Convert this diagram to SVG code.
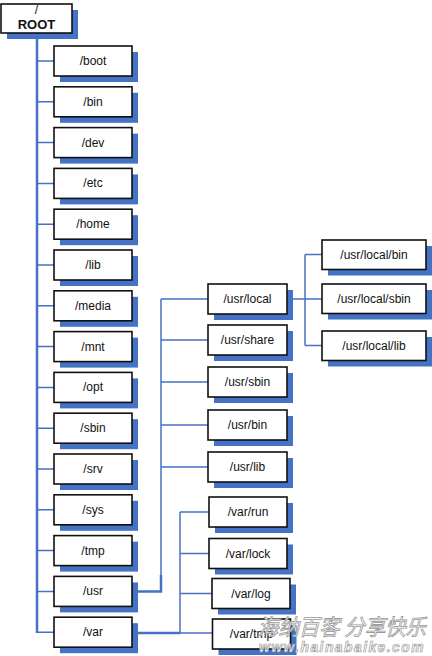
<svg xmlns="http://www.w3.org/2000/svg" width="432" height="656" viewBox="0 0 432 656">
<style>
.sh{fill:#4472C4}
.bx{fill:#fff;stroke:#111;stroke-width:1.6}
.t{font-family:"Liberation Sans",Arial,sans-serif;font-size:12px;fill:#111;text-anchor:middle}
.c{fill:none;stroke:#4472C4;stroke-width:1.5}
.ct{fill:none;stroke:#4472C4;stroke-width:2.5}
.wm{font-family:"Noto Sans CJK SC",sans-serif;font-size:22px;fill:#fff;stroke:#999;stroke-width:0.8;font-style:italic}
.wm2{font-family:"Liberation Sans",sans-serif;font-size:14px;font-weight:bold;font-style:italic;fill:#fff;stroke:#999;stroke-width:0.7;letter-spacing:1.5px}
</style>
<rect width="432" height="656" fill="#fff"/>
<g id="connectors">
<path class="ct" d="M37 33V633"/>
<path class="c" d="M37 61H54M37 101.8H54M37 142.6H54M37 183.4H54M37 224.2H54M37 265H54M37 305.8H54M37 346.6H54M37 387.4H54M37 428.2H54M37 469H54M37 509.8H54M37 550.6H54M37 591.4H54M37 632.2H54"/>
<path class="c" d="M161 299V591.4M161 299H208M161 340H208M161 382H208M161 425H208M161 467H208"/>
<path class="ct" d="M132 591.4H161V575"/>
<path class="c" d="M287 299H305M305 254.5V345.5M305 254.5H322M305 299H322M305 345.5H322"/>
<path class="ct" d="M132 633H180"/>
<path class="c" d="M180 512V633M180 512H209M180 553.5H209M180 593.5H212M180 633H212.5"/>
</g>
<g id="root"><rect class="sh" x="7" y="10" width="71" height="29"/><rect class="bx" x="1" y="4" width="71" height="29"/><text class="t" x="36.5" y="14">/</text><text class="t" x="36.5" y="29" style="font-weight:bold;font-size:13px">ROOT</text></g>
<g id="boot"><rect class="sh" x="60" y="52" width="78" height="30"/><rect class="bx" x="54" y="46" width="78" height="30"/><text class="t" x="93" y="65">/boot</text></g>
<g id="bin"><rect class="sh" x="60" y="92.8" width="78" height="30"/><rect class="bx" x="54" y="86.8" width="78" height="30"/><text class="t" x="93" y="105.8">/bin</text></g>
<g id="dev"><rect class="sh" x="60" y="133.6" width="78" height="30"/><rect class="bx" x="54" y="127.6" width="78" height="30"/><text class="t" x="93" y="146.6">/dev</text></g>
<g id="etc"><rect class="sh" x="60" y="174.4" width="78" height="30"/><rect class="bx" x="54" y="168.4" width="78" height="30"/><text class="t" x="93" y="187.4">/etc</text></g>
<g id="home"><rect class="sh" x="60" y="215.2" width="78" height="30"/><rect class="bx" x="54" y="209.2" width="78" height="30"/><text class="t" x="93" y="228.2">/home</text></g>
<g id="lib"><rect class="sh" x="60" y="256" width="78" height="30"/><rect class="bx" x="54" y="250" width="78" height="30"/><text class="t" x="93" y="269">/lib</text></g>
<g id="media"><rect class="sh" x="60" y="296.8" width="78" height="30"/><rect class="bx" x="54" y="290.8" width="78" height="30"/><text class="t" x="93" y="309.8">/media</text></g>
<g id="mnt"><rect class="sh" x="60" y="337.6" width="78" height="30"/><rect class="bx" x="54" y="331.6" width="78" height="30"/><text class="t" x="93" y="350.6">/mnt</text></g>
<g id="opt"><rect class="sh" x="60" y="378.4" width="78" height="30"/><rect class="bx" x="54" y="372.4" width="78" height="30"/><text class="t" x="93" y="391.4">/opt</text></g>
<g id="sbin"><rect class="sh" x="60" y="419.2" width="78" height="30"/><rect class="bx" x="54" y="413.2" width="78" height="30"/><text class="t" x="93" y="432.2">/sbin</text></g>
<g id="srv"><rect class="sh" x="60" y="460" width="78" height="30"/><rect class="bx" x="54" y="454" width="78" height="30"/><text class="t" x="93" y="473">/srv</text></g>
<g id="sys"><rect class="sh" x="60" y="500.8" width="78" height="30"/><rect class="bx" x="54" y="494.8" width="78" height="30"/><text class="t" x="93" y="513.8">/sys</text></g>
<g id="tmp"><rect class="sh" x="60" y="541.6" width="78" height="30"/><rect class="bx" x="54" y="535.6" width="78" height="30"/><text class="t" x="93" y="554.6">/tmp</text></g>
<g id="usr"><rect class="sh" x="60" y="582.4" width="78" height="30"/><rect class="bx" x="54" y="576.4" width="78" height="30"/><text class="t" x="93" y="595.4">/usr</text></g>
<g id="var"><rect class="sh" x="60" y="623.2" width="78" height="30"/><rect class="bx" x="54" y="617.2" width="78" height="30"/><text class="t" x="93" y="636.2">/var</text></g>
<g id="usr-local"><rect class="sh" x="214" y="290" width="79" height="30"/><rect class="bx" x="208" y="284" width="79" height="30"/><text class="t" x="247.5" y="303">/usr/local</text></g>
<g id="usr-share"><rect class="sh" x="214" y="331" width="79" height="30"/><rect class="bx" x="208" y="325" width="79" height="30"/><text class="t" x="247.5" y="344">/usr/share</text></g>
<g id="usr-sbin"><rect class="sh" x="214" y="373" width="79" height="30"/><rect class="bx" x="208" y="367" width="79" height="30"/><text class="t" x="247.5" y="386">/usr/sbin</text></g>
<g id="usr-bin"><rect class="sh" x="214" y="416" width="79" height="30"/><rect class="bx" x="208" y="410" width="79" height="30"/><text class="t" x="247.5" y="429">/usr/bin</text></g>
<g id="usr-lib"><rect class="sh" x="214" y="458" width="79" height="30"/><rect class="bx" x="208" y="452" width="79" height="30"/><text class="t" x="247.5" y="471">/usr/lib</text></g>
<g id="usr-local-bin"><rect class="sh" x="328" y="246" width="104" height="29.5"/><rect class="bx" x="322" y="240" width="104" height="29.5"/><text class="t" x="374" y="258.5">/usr/local/bin</text></g>
<g id="usr-local-sbin"><rect class="sh" x="328" y="290" width="104" height="29.5"/><rect class="bx" x="322" y="284" width="104" height="29.5"/><text class="t" x="374" y="302.5">/usr/local/sbin</text></g>
<g id="usr-local-lib"><rect class="sh" x="328" y="337" width="104" height="29.5"/><rect class="bx" x="322" y="331" width="104" height="29.5"/><text class="t" x="374" y="349.5">/usr/local/lib</text></g>
<g id="var-run"><rect class="sh" x="215" y="503" width="78" height="30"/><rect class="bx" x="209" y="497" width="78" height="30"/><text class="t" x="248" y="516">/var/run</text></g>
<g id="var-lock"><rect class="sh" x="215" y="544.5" width="78" height="30"/><rect class="bx" x="209" y="538.5" width="78" height="30"/><text class="t" x="248" y="557.5">/var/lock</text></g>
<g id="var-log"><rect class="sh" x="218" y="584.5" width="78" height="30"/><rect class="bx" x="212" y="578.5" width="78" height="30"/><text class="t" x="251" y="597.5">/var/log</text></g>
<g id="var-tmp"><rect class="sh" x="218.5" y="625" width="78" height="30"/><rect class="bx" x="212.5" y="619" width="78" height="30"/><text class="t" x="251.5" y="638">/var/tmp</text></g>
<g id="watermark"><text class="wm" x="258" y="635" textLength="168" lengthAdjust="spacingAndGlyphs">海纳百客 分享快乐</text><text class="wm2" x="259" y="652" textLength="166" lengthAdjust="spacingAndGlyphs">www.hainabaike.com</text></g>
</svg>
